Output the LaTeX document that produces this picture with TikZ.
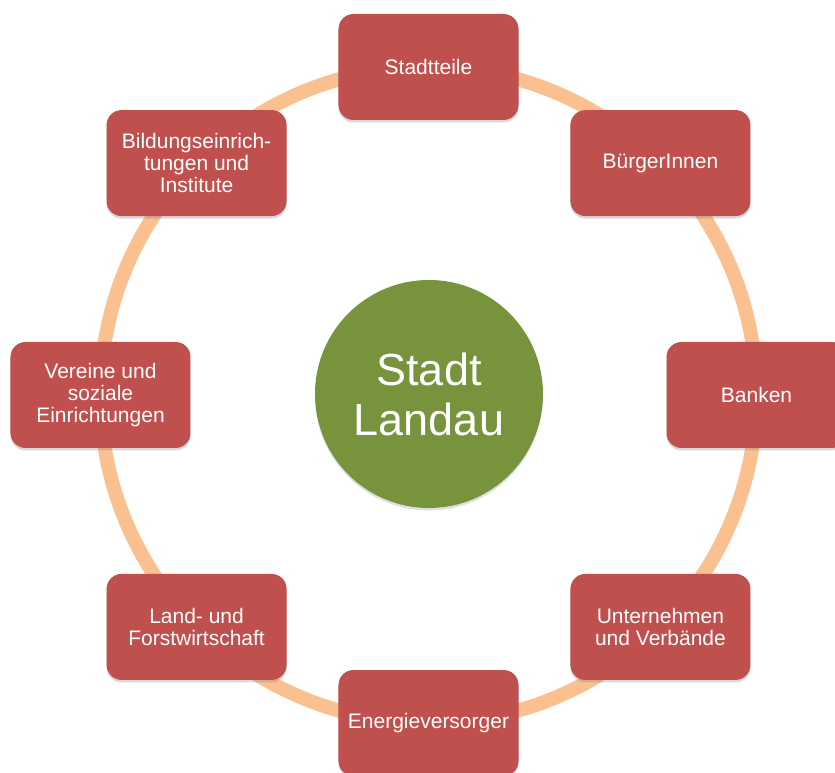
\documentclass[tikz,border=0pt]{standalone}
\usepackage{fontspec}
\setmainfont{Liberation Sans}
\usetikzlibrary{shadows}

\definecolor{partnerred}{HTML}{C0504D}
\definecolor{citygreen}{HTML}{77933C}
\definecolor{ringpeach}{HTML}{FAC090}

\begin{document}
\begin{tikzpicture}[
    x=1pt,
    y=1pt,
    partner node/.style={rectangle,rounded corners=15pt,fill=partnerred,text=white,
      minimum width=180pt,minimum height=106pt,align=center,
      font=\fontsize{21}{22}\selectfont,
      drop shadow={shadow xshift=0pt,shadow yshift=-2.5pt,opacity=0.3}},
    city node/.style={circle,fill=citygreen,text=white,minimum size=228pt,inner sep=0pt,
      align=center,font=\fontsize{45}{50}\selectfont,
      drop shadow={shadow xshift=0pt,shadow yshift=-2.5pt,opacity=0.25}},
    ring/.style={draw=ringpeach,line width=14pt}]

  \useasboundingbox (-428.5,-378) rectangle (406.5,395);

  % ring behind everything
  \draw[ring] (0,0) circle (328pt);

  \node[city node] (Landau) at (0.5,1) {Stadt\\Landau};

  \node[partner node] (Stadtteile) at (90:328) {Stadtteile};
  \node[partner node] (Buerger) at (45:328) {BürgerInnen};
  \node[partner node] (Banken) at (0:328) {Banken};
  \node[partner node] (Unternehmen) at (-45:328) {Unternehmen\\und Verbände};
  \node[partner node] (Energie) at (-90:328) {Energieversorger};
  \node[partner node] (Land) at (-135:328) {Land- und\\Forstwirtschaft};
  \node[partner node] (Vereine) at (180:328) {Vereine und\\soziale\\Einrichtungen};
  \node[partner node] (Bildung) at (135:328) {Bildungseinrich-\\tungen und\\Institute};
\end{tikzpicture}
\end{document}
